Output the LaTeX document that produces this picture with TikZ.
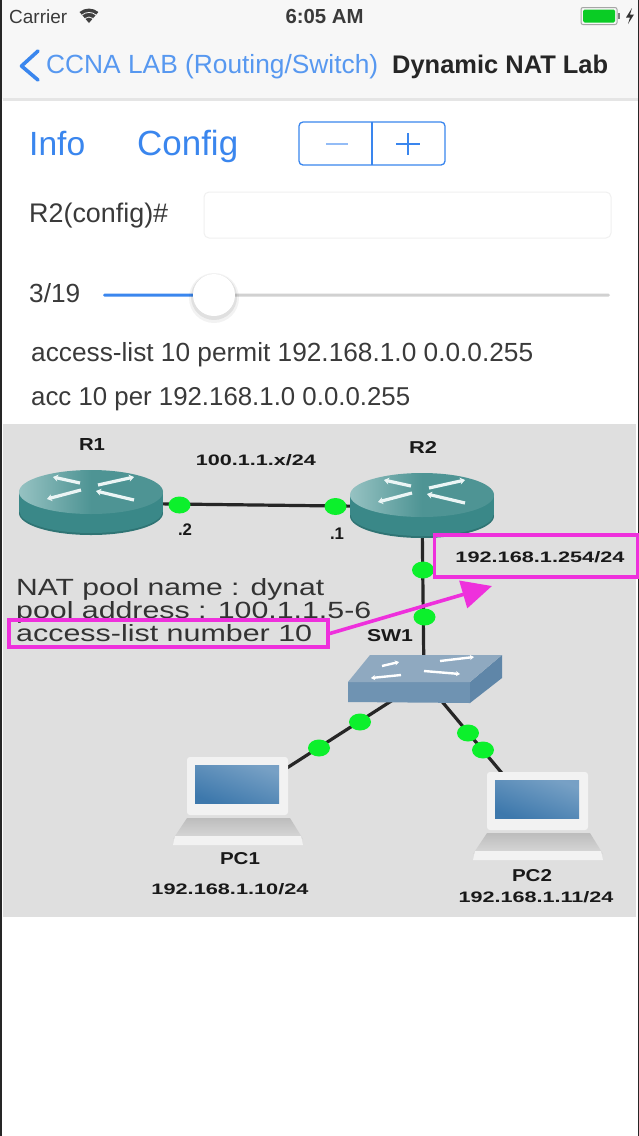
\documentclass[tikz,border=0pt]{standalone}
\usepackage{graphicx}
\usepackage{fontspec}
\setmainfont{Liberation Sans}
\usetikzlibrary{arrows.meta,shapes.geometric}
\definecolor{iosblue}{HTML}{3A86EE}
\definecolor{txt}{HTML}{3A3A3A}
\definecolor{panel}{HTML}{DFDFDF}
\definecolor{pinky}{HTML}{EE30DC}
\definecolor{dotgreen}{HTML}{0CF02C}
\definecolor{tealtop}{HTML}{4E9494}
\definecolor{teallight}{HTML}{96C2C2}
\definecolor{tealbody}{HTML}{3A8888}
\definecolor{tealedge}{HTML}{2F7474}
\definecolor{swtop}{HTML}{8FA9C0}
\definecolor{swfront}{HTML}{6F93B2}
\definecolor{swside}{HTML}{5F86A8}
\definecolor{scr}{HTML}{3D78AC}
\newcommand{\fitw}[2]{\resizebox{#1pt}{!}{#2}}
\newcommand{\fitwh}[3]{\resizebox{#1pt}{#2pt}{#3}}
\tikzset{
  x=1pt,y=-1pt,
  lbl/.style={inner sep=0pt,text=txt},
  uilbl/.style={inner sep=0pt,anchor=west},
  blue lbl/.style={uilbl,text=iosblue},
  diag/.style={inner sep=0pt,text=black!90,font=\bfseries},
  anchorbox/.style={inner sep=0pt,minimum width=#1,minimum height=10pt},
  link/.style={draw=black!85,line width=3.2pt},
  port/.style={ellipse,fill=dotgreen,minimum width=22pt,minimum height=17pt,inner sep=0pt},
  pinkbox/.style={draw=pinky,line width=3.6pt},
  rarrow/.style={white!92!teal,line width=3.2pt,-{Stealth[length=5pt,width=7pt]}},
  swarrow/.style={white,line width=2.4pt,-{Stealth[length=4pt,width=5pt]}},
  lightbtn/.style={draw=iosblue,line width=1.3pt,rounded corners=4pt}
}
\newcommand{\routershape}[1]{
  \begin{scope}[shift={(#1)}]
    \fill[tealedge] (0,21) ellipse [x radius=72pt,y radius=22pt];
    \fill[tealbody] (0,19.5) ellipse [x radius=71.5pt,y radius=21.5pt];
    \fill[tealbody] (-72,0) rectangle (72,20);
    \shade[left color=teallight,right color=tealtop,middle color=tealtop] (0,0) ellipse [x radius=72pt,y radius=22pt];
    \draw[rarrow] (-11,-9) -- (-38,-15);
    \draw[rarrow] (7,-7) -- (43,-15);
    \draw[rarrow] (-10,-2) -- (-44,7);
    \draw[rarrow] (43,8) -- (5,-1);
  \end{scope}
}
\newcommand{\laptopshape}[1]{
  \begin{scope}[shift={(#1)}]
    \fill[black!5,rounded corners=3pt] (0,0) rectangle (101,58);
    \shade[top color=scr!70!white,bottom color=scr,shading angle=-20] (8,8) rectangle (92,46);
    \shade[top color=black!26,bottom color=black!15] (0,61) -- (103,61) -- (116,82) -- (-14,82) -- cycle;
    \fill[black!5] (-12,79) -- (114,79) -- (116,88) -- (-14,88) -- cycle;
  \end{scope}
}
\begin{document}
\begin{tikzpicture}
\useasboundingbox (0,0) rectangle (639,1136);
\fill[white] (0,0) rectangle (639,1136);
% nav
\fill[black!3] (0,0) rectangle (639,99);
\fill[black!10] (3,98) rectangle (639,101);
\fill[black!85] (0,0) rectangle (1.5,1136);
\fill[black!85] (637.5,0) rectangle (639,1136);
% status bar
\node[uilbl,text=txt] (carrier) at (9,17) {\fitw{58}{Carrier}};
\fill[black!75] (89,23) -- (79.5,12) arc [start angle=130,end angle=50,radius=14.7pt] -- cycle;
\draw[black!3,line width=.8pt] (82,15) arc [start angle=130,end angle=50,radius=10.9pt];
\draw[black!3,line width=.8pt] (85,18.5) arc [start angle=130,end angle=50,radius=6.2pt];
\node[lbl] (clock) at (324.5,16) {\fitw{78}{\bfseries 6:05 AM}};
\draw[black!35,rounded corners=2pt,line width=1pt] (581,7.5) rectangle (617,24.5);
\fill[dotgreen!85!black,rounded corners=1.5pt] (583,9.5) rectangle (615,22.5);
\fill[black!50] (618,13) rectangle (620,19);
\fill[black!80] (632,8) -- (626,17.5) -- (630,17.5) -- (628,24) -- (634,14.5) -- (630,14.5) -- cycle;
% nav bar
\draw[iosblue,line width=3.6pt,line cap=round,line join=round] (38,51) -- (21.5,66) -- (38,80);
\node[uilbl,text=iosblue!85!white] (back) at (46,66.5) {\fitw{332}{CCNA LAB (Routing/Switch)}};
\node[uilbl,text=black!85] (title) at (392,66.5) {\fitw{216}{\bfseries Dynamic NAT Lab}};
% controls
\node[blue lbl] (info) at (29,144) {\fitw{56}{Info}};
\node[blue lbl] (config) at (137,146) {\fitw{101}{Config}};
\draw[lightbtn] (299,122) rectangle (445,165);
\draw[iosblue,line width=1.3pt] (372,122) -- (372,165);
\draw[iosblue!55,line width=2pt] (326,144) -- (348,144);
\draw[iosblue,line width=2pt] (396,144) -- (420,144) (408,133) -- (408,155);
\node[uilbl,text=txt] (prompt) at (29,216) {\fitw{139}{R2(config)\#}};
\draw[black!6,line width=1pt,rounded corners=5pt] (204,192) rectangle (611,238);
% slider
\node[uilbl,text=txt] (count) at (29,293) {\fitw{51}{3/19}};
\fill[black!18,rounded corners=1.5pt] (200,293.5) rectangle (610,296.5);
\fill[iosblue,rounded corners=1.5pt] (103,293.5) rectangle (205,296.5);
\fill[black,opacity=.05] (214,298) circle (25);
\fill[black,opacity=.07] (214,297) circle (23);
\fill[white] (214,295) circle (21);
\node[uilbl,text=txt] (full) at (31,355) {\fitw{502}{access-list 10 permit 192.168.1.0 0.0.0.255}};
\node[uilbl,text=txt] (short) at (31,399) {\fitw{379}{acc 10 per 192.168.1.0 0.0.0.255}};
% panel
\fill[panel] (3,424) rectangle (636,917);
% device anchors
\node[anchorbox=144pt] (r1) at (91,503) {};
\node[anchorbox=144pt] (r2) at (422,507) {};
\node[anchorbox=150pt] (sw) at (424,680) {};
\node[anchorbox=100pt] (pc1) at (237,800) {};
\node[anchorbox=100pt] (pc2) at (537,815) {};
% links
\draw[link] (r1.center) -- (r2.center);
\draw[link] (r2.center) -- (sw.center);
\draw[link] (sw.center) -- (pc1.center);
\draw[link] (sw.center) -- (pc2.center);
% devices
\routershape{91,492}
\routershape{422,495}
\fill[swfront] (348,682) -- (470,682) -- (470,703) -- (348,702) -- cycle;
\fill[swside] (470,682) -- (502,655) -- (502,678) -- (470,703) -- cycle;
\fill[swtop] (370,655) -- (502,655) -- (470,682) -- (348,682) -- cycle;
\draw[swarrow] (382,666) -- (399,662);
\draw[swarrow] (440,661) -- (474,657);
\draw[swarrow] (401,675) -- (371,678);
\draw[swarrow] (424,671) -- (460,674);
\laptopshape{187,757}
\laptopshape{487,772}
% ports
\node[port] (p1) at (179.5,505) {};
\node[port] (p2) at (335.5,506.5) {};
\node[port] (p3) at (423,570) {};
\node[port] (p4) at (424.5,617) {};
\node[port] (p5) at (360,722) {};
\node[port] (p6) at (319,748) {};
\node[port] (p7) at (468,733) {};
\node[port] (p8) at (483,750) {};
% diagram labels
\node[diag] (lr1) at (92,444) {\fitwh{26}{12}{R1}};
\node[diag] (lr2) at (423,447) {\fitwh{28}{12}{R2}};
\node[diag] (lnet) at (256,460) {\fitwh{120}{11}{100.1.1.x/24}};
\node[diag] (ld2) at (185,530) {\fitw{14}{.2}};
\node[diag] (ld1) at (337,534) {\fitw{14}{.1}};
\node[diag] (lsw) at (390,636) {\fitwh{46}{12}{SW1}};
\node[diag] (lpc1) at (240,859) {\fitwh{40}{12}{PC1}};
\node[diag] (laddr1) at (230,889) {\fitwh{157}{11}{192.168.1.10/24}};
\node[diag] (lpc2) at (532,876) {\fitwh{40}{12}{PC2}};
\node[diag] (laddr2) at (536,897) {\fitwh{155}{11}{192.168.1.11/24}};
\node[inner sep=0pt,anchor=west,text=black!80] (lnat) at (16,589) {\fitwh{308}{17}{NAT pool name : dynat}};
\node[inner sep=0pt,anchor=west,text=black!80] (lpool) at (16,612) {\fitwh{355}{17}{pool address : 100.1.1.5-6}};
% highlights
\node[pinkbox,minimum width=203pt,minimum height=42pt,inner sep=0pt] (hgw) at (536,556) {};
\node[diag] (lgw) at (540,557) {\fitwh{169}{11}{192.168.1.254/24}};
\node[pinkbox,minimum width=319pt,minimum height=27pt,inner sep=0pt,text=black!80] (hacl) at (168.5,633.5) {};
\node[inner sep=0pt,anchor=west,text=black!80] (lacl) at (16,633) {\fitwh{296}{17}{access-list number 10}};
\coordinate (tip) at (492,586);
\draw[pinky,line width=3.6pt,-{Triangle[length=30pt,width=28pt]}] (hacl.east) -- (tip);
\end{tikzpicture}
\end{document}
